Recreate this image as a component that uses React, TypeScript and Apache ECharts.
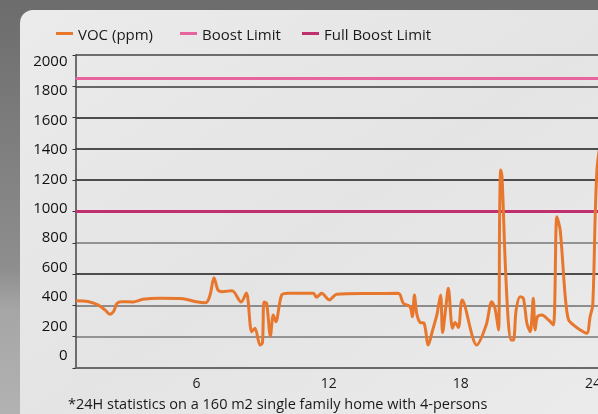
import React, { useEffect, useRef } from "react";
import * as echarts from "echarts";

const vocHours = [
  0.52, 1.06, 1.52, 1.84, 2.06, 2.24, 2.38, 2.61, 3.11, 3.56, 4.34, 5.38, 5.92, 6.42, 6.61, 6.79, 6.97,
  7.15, 7.61, 8.02, 8.26, 8.5, 8.65, 8.88, 8.99, 9.06, 9.18, 9.35, 9.48, 9.6, 9.86, 10.15, 11.3, 11.45,
  11.68, 12.03, 12.36, 13.88, 15.16, 15.39, 15.69, 15.8, 15.89, 16.0, 16.15, 16.33, 16.52, 16.72, 16.91,
  17.08, 17.17, 17.32, 17.43, 17.62, 17.74, 17.89, 18.06, 18.72, 19.15, 19.4, 19.55, 19.71, 19.76, 19.81,
  19.87, 20.01, 20.16, 20.28, 20.39, 20.51, 20.69, 20.84, 21.0, 21.15, 21.29, 21.37, 21.48, 21.68, 21.98,
  22.2, 22.36, 22.51, 22.74, 22.89, 23.11, 23.42, 23.72, 23.87, 23.99, 24.1, 24.18, 24.28,
];
const vocValues = [
  430, 425, 403, 371, 343, 364, 412, 424, 422, 439, 445, 443, 425, 417, 466, 577, 498,
  488, 494, 422, 479, 232, 254, 147, 160, 422, 413, 204, 339, 296, 466, 477, 477, 452,
  477, 435, 471, 476, 477, 413, 392, 328, 466, 345, 291, 286, 147, 243, 339,
  466, 227, 392, 509, 254, 291, 259, 435, 147, 275, 424, 381, 243, 967, 1265,
  1222, 690, 286, 179, 179, 371, 456, 445, 286, 232, 445, 243, 328, 339, 307,
  275, 967, 882, 456, 307, 275, 243, 222, 328, 403, 967, 1265, 1390,
];
const boostLimit = 1850;
const fullBoostLimit = 1000;
const yTickValues = [0, 200, 400, 600, 800, 1000, 1200, 1400, 1600, 1800, 2000];
const xTickValues = [6, 12, 18, 24];
const seriesNames = ["VOC (ppm)", "Boost Limit", "Full Boost Limit"];
const footnote = "*24H statistics on a 160 m2 single family home with 4-persons";

const FONT = "'Open Sans', 'Noto Sans', sans-serif";
const CHART_W = 615;
const CHART_H = 414;

export default function App() {
  const ref = useRef<HTMLDivElement>(null);
  useEffect(() => {
    document.body.style.overflow = "hidden";
    const chart = echarts.init(ref.current!, null, { renderer: "svg" });
    const xMin = 0.5;
    const xMax = 25;
    const legendBase = {
      orient: "horizontal",
      top: 26,
      padding: 0,
      itemWidth: 17,
      itemHeight: 3,
      icon: "rect",
      textStyle: { fontFamily: FONT, fontSize: 15, color: "#1a1a1a" },
    };
    chart.setOption({
      animation: false,
      graphic: [
        {
          type: "rect",
          silent: true,
          z: -10,
          shape: { x: 0, y: 0, width: CHART_W, height: CHART_H },
          style: {
            fill: new echarts.graphic.LinearGradient(0, 0, 0, 1, [
              { offset: 0, color: "#6c6c6c" },
              { offset: 0.65, color: "#8e8e8e" },
              { offset: 0.75, color: "#a6a6a6" },
              { offset: 1, color: "#b2b2b2" },
            ]),
          },
        },
        {
          type: "rect",
          silent: true,
          z: -9,
          shape: { x: 20, y: 10, width: 620, height: 420, r: [13, 0, 0, 0] },
          style: {
            fill: new echarts.graphic.LinearGradient(0, 0, 1, 1, [
              { offset: 0, color: "#ebebeb" },
              { offset: 0.5, color: "#e4e4e4" },
              { offset: 1, color: "#ececec" },
            ]),
          },
        },
        {
          type: "text",
          left: 68,
          top: 396,
          style: { text: footnote, fontFamily: FONT, fontSize: 14.5, fill: "#1a1a1a" },
        },
      ],
      legend: [
        { ...legendBase, left: 56, data: [seriesNames[0]] },
        { ...legendBase, left: 180, data: [seriesNames[1]] },
        { ...legendBase, left: 302, data: [seriesNames[2]] },
      ],
      grid: { left: 75.5, top: 55, bottom: 46, right: 0, containLabel: false },
      xAxis: {
        type: "value",
        min: xMin,
        max: xMax,
        axisLine: { show: true, lineStyle: { color: "#6a6a6a", width: 2 } },
        axisTick: { show: false },
        splitLine: { show: false },
        axisLabel: {
          customValues: xTickValues,
          margin: 7,
          fontFamily: FONT,
          fontSize: 14,
          color: "#1a1a1a",
          formatter: (v: number) => String(v),
        },
      },
      yAxis: [
        {
          type: "value",
          min: 0,
          max: 2000,
          interval: 200,
          axisLine: { show: true, lineStyle: { color: "#444", width: 1.5 } },
          axisTick: { show: true, length: 3, lineStyle: { color: "#333" } },
          axisLabel: { show: false },
          splitLine: {
            show: true,
            lineStyle: {
              width: 1.5,
              color: [
                "#6a6a6a", "#777777", "#6e6e6e", "#1a1a1a", "#777777", "#555555",
                "#1a1a1a", "#1a1a1a", "#1a1a1a", "#3a3a3a", "#444444",
              ],
            },
          },
        },
        {
          type: "value",
          min: -95,
          max: 2034,
          position: "left",
          axisLine: { show: false },
          axisTick: { show: false },
          splitLine: { show: false },
          axisLabel: {
            customValues: yTickValues,
            margin: 8,
            fontFamily: FONT,
            fontSize: 15,
            color: "#111",
            formatter: (v: number) => String(v),
          },
        },
      ],
      series: [
        {
          name: seriesNames[0],
          type: "line",
          color: "#e8772e",
          data: vocHours.map((h, i) => [h, vocValues[i]]),
          smooth: 0.3,
          showSymbol: false,
          lineStyle: { width: 3, color: "#e8772e" },
          z: 5,
        },
        {
          name: seriesNames[1],
          type: "line",
          color: "#e8649c",
          data: [[xMin, boostLimit], [xMax, boostLimit]],
          showSymbol: false,
          lineStyle: { width: 3, color: "#e8649c" },
          z: 4,
        },
        {
          name: seriesNames[2],
          type: "line",
          color: "#c0306f",
          data: [[xMin, fullBoostLimit], [xMax, fullBoostLimit]],
          showSymbol: false,
          lineStyle: { width: 3, color: "#c0306f" },
          z: 4,
        },
      ],
    });
    return () => chart.dispose();
  }, []);
  return (
    <div
      ref={ref}
      style={{ position: "fixed", left: 0, top: 0, width: CHART_W, height: CHART_H }}
    />
  );
}
